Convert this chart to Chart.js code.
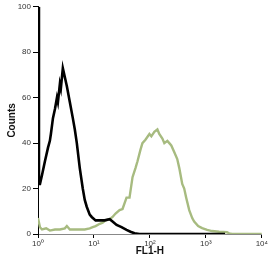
<!DOCTYPE html>
<html>
<head>
<meta charset="utf-8">
<script src="https://cdn.jsdelivr.net/npm/chart.js@4/dist/chart.umd.min.js"></script>
<style>
  body { margin: 0; background: #fff; }
</style>
</head>
<body>
<canvas id="histChart" width="269" height="272"></canvas>
<script>
// FL1-H channel values (x) and counts (y)
const blackX = [1, 1.04, 1.085, 1.18, 1.33, 1.51, 1.63, 1.70, 1.85, 2.01, 2.18, 2.27, 2.46, 2.56, 2.78, 2.90, 3.02, 3.28, 3.71, 4.19, 4.55, 4.94, 5.58, 6.31, 6.85, 7.43, 8.40, 9.12, 10.7, 12.7, 15.5, 19.1, 21.5, 25.4, 31.1, 38.2, 45, 53, 65, 2200];
const blackY = [100, 22, 22, 26, 32, 38, 41, 44, 51, 55, 60, 58, 66, 64, 73, 71, 69, 65, 58, 51, 46, 40, 29, 20, 15, 12, 8.5, 7.5, 6, 6, 6, 6.5, 5.5, 4, 3, 1.8, 1, 0.3, 0, 0];

const greenX = [1, 1.04, 1.085, 1.18, 1.4, 1.63, 2.01, 2.46, 3.02, 3.28, 3.71, 4.55, 5.58, 6.85, 8.4, 9.5, 10.7, 12.7, 14.3, 16.1, 19.1, 21.5, 24.3, 28.7, 32.4, 38.2, 43.2, 48.9, 55.2, 60, 67.7, 73.5, 83.2, 98, 106, 120, 136, 147, 167, 181, 205, 222, 241, 273, 308, 335, 378, 410, 445, 504, 570, 618, 728, 858, 1052, 1291, 1722, 2386, 2590, 2929, 10000];
const greenY = [7, 7, 3, 2, 2.5, 1.5, 2, 2, 2.5, 3.5, 2, 2, 2, 2, 2.5, 3, 3.5, 4.5, 5, 6, 6.5, 7.5, 9, 10.5, 11, 16, 16, 25, 29, 32, 37, 40, 41.5, 44, 43, 45, 46, 44, 42, 40, 41, 40, 39, 36, 33, 29, 22, 20, 16, 10.5, 7, 5.5, 3.5, 2.6, 1.8, 1.3, 1, 0.8, 0.3, 0, 0];

const xTicks = [1, 10, 100, 1000, 10000];
const yTicks = [0, 20, 40, 60, 80, 100];

const sup = ['⁰', '¹', '²', '³', '⁴'];
const toPoints = (xs, ys) => xs.map((x, i) => ({ x: x, y: ys[i] }));

const ctx = document.getElementById('histChart').getContext('2d');
new Chart(ctx, {
    type: 'line',
    data: {
        datasets: [{
            data: toPoints(blackX, blackY),
            borderColor: '#000000',
            borderWidth: 2.6,
            pointRadius: 0,
            tension: 0,
            order: 0
        }, {
            data: toPoints(greenX, greenY),
            borderColor: '#a7bb80',
            borderWidth: 2.4,
            pointRadius: 0,
            tension: 0,
            order: 1
        }]
    },
    options: {
        responsive: false,
        animation: false,
        devicePixelRatio: 1,
        layout: { padding: { top: 5, right: 6, left: 0, bottom: 0 } },
        plugins: {
            legend: { display: false },
            tooltip: { enabled: false }
        },
        scales: {
            x: {
                type: 'logarithmic',
                min: 1,
                max: 10000,
                afterBuildTicks: (scale) => { scale.ticks = xTicks.map(v => ({ value: v })); },
                afterFit: (scale) => { scale.height = 38; },
                ticks: {
                    autoSkip: false,
                    maxRotation: 0,
                    padding: 1,
                    color: '#333',
                    font: { family: 'Liberation Sans Narrow, Arial Narrow, Liberation Sans, sans-serif', size: 8 },
                    callback: (v) => '10' + sup[Math.round(Math.log10(v))]
                },
                grid: { drawOnChartArea: false, drawTicks: true, tickLength: 4, color: '#000' },
                border: { display: true, color: '#888', width: 1 },
                title: {
                    display: true,
                    text: 'FL1-H',
                    color: '#111',
                    font: { family: 'Liberation Sans, Arial, sans-serif', size: 10, weight: 'bold' },
                    padding: { top: 0, bottom: 15 }
                }
            },
            y: {
                min: 0,
                max: 100,
                afterBuildTicks: (scale) => { scale.ticks = yTicks.map(v => ({ value: v })); },
                afterFit: (scale) => { scale.width = 38; },
                ticks: {
                    padding: 2,
                    color: '#333',
                    font: { family: 'Liberation Sans Narrow, Arial Narrow, Liberation Sans, sans-serif', size: 8 }
                },
                grid: { drawOnChartArea: false, drawTicks: true, tickLength: 5, color: '#000' },
                border: { display: true, color: '#000', width: 1 },
                title: {
                    display: true,
                    text: 'Counts',
                    color: '#111',
                    font: { family: 'Liberation Sans, Arial, sans-serif', size: 10, weight: 'bold' },
                    padding: { top: 6, bottom: 0 }
                }
            }
        }
    }
});
</script>
</body>
</html>
